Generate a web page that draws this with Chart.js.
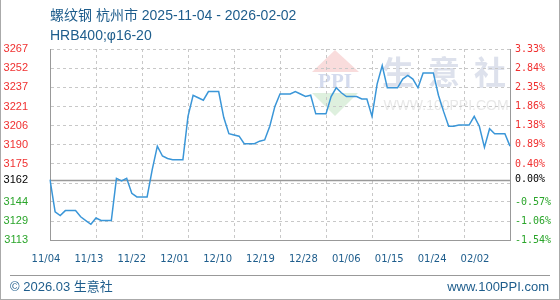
<!DOCTYPE html>
<html>
<head>
<meta charset="utf-8">
<script src="https://cdn.jsdelivr.net/npm/chart.js@4.4.1/dist/chart.umd.min.js"></script>
<style>
    body { margin: 0; background: #fff; }
    #wrap { position: relative; width: 560px; height: 300px; overflow: hidden; }
    #wrap canvas { position: absolute; left: 0; top: 0; }
    #frame { position: absolute; left: 0; top: 0; width: 560px; height: 300px; box-sizing: border-box;
             border-left: 1px solid #aaa; border-right: 1px solid #aaa; border-bottom: 1px solid #aaa; pointer-events: none; }
    #title { position: absolute; left: 50px; top: 5px; font: 14px/20px "Liberation Sans", "Noto Sans CJK SC", sans-serif; color: #1e5d8c; }
    #footLine { position: absolute; left: 10px; top: 275px; width: 540px; border-top: 1px solid #999; }
    .foot { position: absolute; top: 280px; font: 13px/14px "Liberation Sans", "Noto Sans CJK SC", sans-serif; color: #1e5d8c; }
</style>
</head>
<body>
<div id="wrap">
    <canvas id="chart" width="560" height="300"></canvas>
    <div id="title">螺纹钢 杭州市 2025-11-04 - 2026-02-02<br>HRB400;φ16-20</div>
    <div id="footLine"></div>
    <div class="foot" style="left:10px">© 2026.03 生意社</div>
    <div class="foot" style="right:11px">www.100PPI.com</div>
    <div id="frame"></div>
</div>
<script>
// ===== DATOS =====
const basePrice = 3162;

// dias del 2025-11-04 al 2026-02-02
const dayLabels = [];
const startDay = new Date(2025, 10, 4);
for (let i = 0; i < 91; i++) {
    const d = new Date(startDay.getFullYear(), startDay.getMonth(), startDay.getDate() + i);
    dayLabels.push(String(d.getMonth() + 1).padStart(2, '0') + '/' + String(d.getDate()).padStart(2, '0'));
}

const prices = [
    3162, 3136, 3133, 3137, 3137, 3137, 3132, 3129, 3126, 3131,
    3129, 3129, 3129, 3163, 3161, 3163, 3151, 3148, 3148, 3148,
    3170, 3189, 3181, 3179, 3178, 3178, 3178, 3213, 3230, 3228,
    3226, 3233, 3233, 3233, 3212, 3199, 3198, 3197, 3191, 3191,
    3191, 3193, 3194, 3205, 3221, 3231, 3231, 3231, 3233, 3231,
    3229, 3230, 3215, 3215, 3215, 3229, 3236, 3232, 3229, 3229,
    3229, 3227, 3227, 3213, 3239, 3254, 3236, 3236, 3236, 3243,
    3246, 3243, 3236, 3248, 3248, 3248, 3230, 3217, 3205, 3205,
    3206, 3206, 3206, 3213, 3205, 3188, 3203, 3199, 3199, 3199,
    3189
];

const xTickLabels = ['11/04', '11/13', '11/22', '12/01', '12/10', '12/19', '12/28', '01/06', '01/15', '01/24', '02/02'];

// eje y: porcentaje sobre el precio base
const yTickPct = [3.33, 2.84, 2.35, 1.86, 1.38, 0.89, 0.40, 0.00, -0.09, -0.57, -1.06, -1.54];
const leftTickLabels = ['3267', '3252', '3237', '3221', '3206', '3190', '3175', '3162', '', '3144', '3129', '3113'];
const rightTickLabels = ['3.33%', '2.84%', '2.35%', '1.86%', '1.38%', '0.89%', '0.40%', '0.00%', '', '-0.57%', '-1.06%', '-1.54%'];

const yTickValues = yTickPct.map(p => basePrice * (1 + p / 100));
const yMin = Math.min(...yTickValues);
const yMax = Math.max(...yTickValues);

// ===== COLORES =====
function tickColor(ctx) {
    const v = ctx.tick.value;
    if (Math.abs(v - basePrice) < 0.5) return '#000';
    return v > basePrice ? '#f03030' : '#2aa52a';
}

// ===== PLUGINS =====
const baseLinePlugin = {
    id: 'baseLine',
    beforeDatasetsDraw(chart) {
        const { ctx, chartArea, scales } = chart;
        const y = Math.round(scales.y.getPixelForValue(basePrice)) + 0.5;
        ctx.save();
        ctx.strokeStyle = '#999';
        ctx.lineWidth = 1.5;
        ctx.beginPath();
        ctx.moveTo(chartArea.left, y);
        ctx.lineTo(chartArea.right, y);
        ctx.stroke();
        ctx.restore();
    }
};

const watermarkPlugin = {
    id: 'watermark',
    beforeDraw(chart) {
        const ctx = chart.ctx;
        ctx.save();
        // logo PPI
        ctx.fillStyle = '#f9dcdc';
        ctx.beginPath();
        ctx.moveTo(335, 50); ctx.lineTo(359, 72); ctx.lineTo(312, 72); ctx.closePath();
        ctx.fill();
        ctx.fillStyle = '#def0de';
        ctx.beginPath();
        ctx.moveTo(312, 93); ctx.lineTo(358, 93); ctx.lineTo(335, 116); ctx.closePath();
        ctx.fill();
        ctx.fillStyle = '#d4dbee';
        ctx.font = 'bold 21px "Liberation Serif"';
        ctx.textAlign = 'center';
        ctx.textBaseline = 'middle';
        ctx.fillText('PPI', 335, 83);
        // 生意社
        ctx.fillStyle = '#dde1ec';
        ctx.font = 'bold 32px "Noto Sans CJK SC"';
        ['生', '意', '社'].forEach((c, i) => ctx.fillText(c, 398 + i * 46, 72));
        ctx.fillStyle = '#e8e8e8';
        ctx.font = '14px "Liberation Sans"';
        ctx.fillText('WWW.100PPI.COM', 446, 106);
        ctx.restore();
    }
};

// ===== GRAFICO =====
new Chart(document.getElementById('chart'), {
    type: 'line',
    data: {
        labels: dayLabels,
        datasets: [{
            data: prices,
            borderColor: '#3a96d8',
            borderWidth: 1.5,
            pointRadius: 0,
            tension: 0,
            fill: false
        }]
    },
    options: {
        responsive: false,
        animation: false,
        layout: { padding: { left: 0, right: 0, top: 49, bottom: 36 } },
        plugins: { legend: { display: false }, tooltip: { enabled: false } },
        scales: {
            x: {
                type: 'category',
                afterBuildTicks: s => { s.ticks = s.ticks.filter(t => xTickLabels.includes(dayLabels[t.value])); },
                afterFit: s => { s.height = 0; },
                ticks: { display: false },
                grid: { color: '#c8c8c8', drawTicks: false },
                border: { display: true, color: '#999', dash: [3, 3] }
            },
            // eje solo para las etiquetas de fecha (algo desplazadas respecto a la rejilla)
            xl: {
                type: 'linear',
                position: 'bottom',
                min: 0.84,
                max: 97.34,
                afterBuildTicks: s => { s.ticks = xTickLabels.map((l, i) => ({ value: i * 9 })); },
                afterFit: s => { s.height = 24; },
                ticks: {
                    autoSkip: false,
                    maxRotation: 0,
                    padding: 13,
                    color: '#1e5d8c',
                    font: { family: 'DejaVu Sans', size: 10 },
                    callback: (v, i) => xTickLabels[i]
                },
                grid: { display: false, drawTicks: false },
                border: { display: false }
            },
            y: {
                position: 'left',
                min: yMin,
                max: yMax,
                afterBuildTicks: s => { s.ticks = yTickValues.map(v => ({ value: v })); },
                afterFit: s => { s.width = 50; },
                ticks: {
                    autoSkip: false,
                    padding: 22,
                    color: tickColor,
                    font: { family: 'Liberation Sans', size: 11 },
                    callback: (v, i) => leftTickLabels[i]
                },
                grid: {
                    color: ctx => (ctx.tick && Math.abs(ctx.tick.value - basePrice) < 0.5) ? 'rgba(0,0,0,0)' : '#c8c8c8',
                    drawTicks: false
                },
                border: { display: true, color: '#999', dash: [3, 3] }
            },
            y2: {
                position: 'right',
                min: yMin,
                max: yMax,
                afterBuildTicks: s => { s.ticks = yTickValues.map(v => ({ value: v })); },
                afterFit: s => { s.width = 50; },
                ticks: {
                    autoSkip: false,
                    padding: 5,
                    color: tickColor,
                    font: { family: 'DejaVu Sans Mono', size: 10 },
                    callback: (v, i) => rightTickLabels[i]
                },
                grid: { display: false, drawTicks: false },
                border: { display: true, color: '#999' }
            }
        }
    },
    plugins: [watermarkPlugin, baseLinePlugin]
});
</script>
</body>
</html>
